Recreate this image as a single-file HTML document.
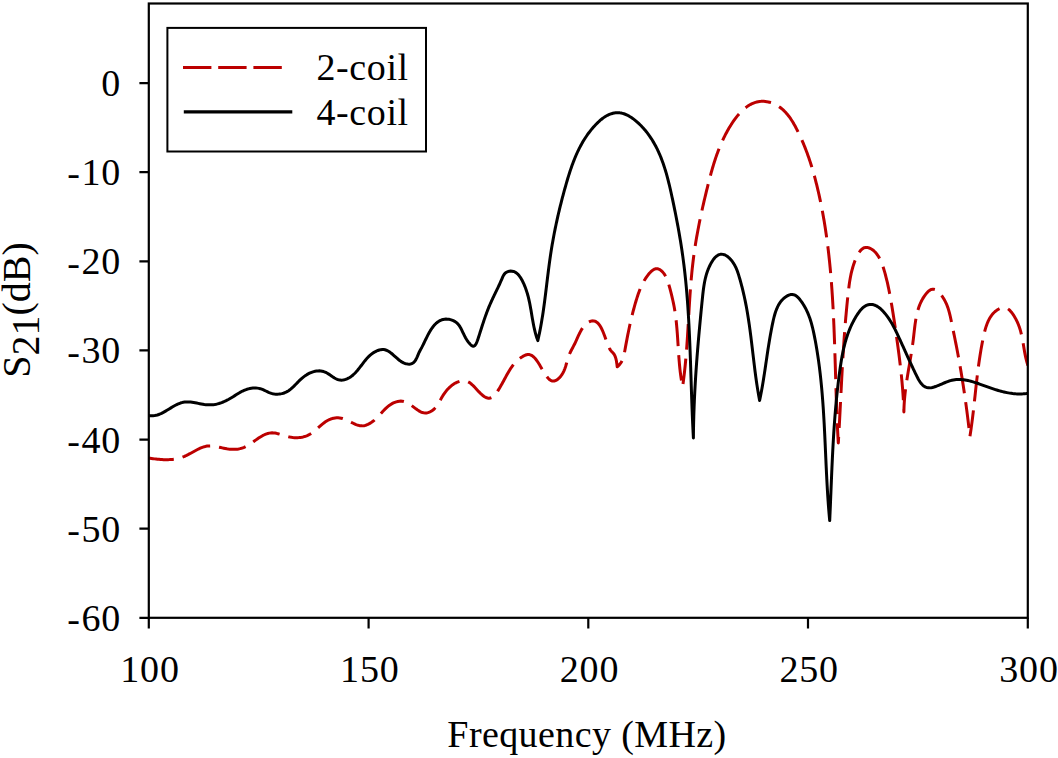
<!DOCTYPE html>
<html><head><meta charset="utf-8"><style>
html,body{margin:0;padding:0;background:#fff;}
svg{display:block;}
text{font-family:"Liberation Serif", serif;fill:#000;}
</style></head><body>
<svg width="1058" height="758" viewBox="0 0 1058 758">
<rect x="0" y="0" width="1058" height="758" fill="#fff"/>
<defs><clipPath id="pa"><rect x="148.8" y="3.5" width="879" height="614.3"/></clipPath></defs>
<g clip-path="url(#pa)" fill="none" stroke-linejoin="round">
<path d="M148.50,458.00 L150.01,458.23 L151.51,458.46 L153.02,458.67 L154.53,458.87 L156.03,459.05 L157.54,459.22 L159.04,459.36 L160.55,459.48 L162.05,459.58 L163.54,459.65 L165.04,459.69 L166.52,459.70 L168.01,459.68 L169.49,459.62 L170.96,459.52 L172.43,459.39 L173.89,459.21 L175.34,458.98 L176.79,458.71 L178.23,458.40 L179.65,458.03 L181.07,457.60 L182.48,457.13 L183.88,456.59 L185.27,456.00 L186.65,455.35 L188.02,454.67 L189.38,453.95 L190.74,453.21 L192.10,452.45 L193.45,451.70 L194.81,450.95 L196.16,450.21 L197.52,449.50 L198.89,448.83 L200.26,448.21 L201.64,447.63 L203.03,447.13 L204.43,446.69 L205.84,446.34 L207.27,446.09 L208.72,445.94 L210.18,445.89 L211.66,445.94 L213.14,446.07 L214.64,446.27 L216.15,446.53 L217.67,446.83 L219.19,447.16 L220.71,447.50 L222.24,447.85 L223.76,448.19 L225.28,448.50 L226.79,448.78 L228.30,449.01 L229.79,449.19 L231.28,449.31 L232.76,449.37 L234.23,449.37 L235.69,449.30 L237.13,449.16 L238.56,448.94 L239.98,448.65 L241.39,448.28 L242.78,447.82 L244.15,447.28 L245.51,446.65 L246.85,445.95 L248.18,445.19 L249.50,444.37 L250.82,443.51 L252.12,442.63 L253.42,441.72 L254.72,440.80 L256.02,439.89 L257.32,438.98 L258.62,438.10 L259.92,437.25 L261.23,436.45 L262.54,435.70 L263.87,435.01 L265.20,434.40 L266.55,433.88 L267.91,433.46 L269.29,433.14 L270.69,432.94 L272.10,432.87 L273.53,432.92 L274.98,433.09 L276.45,433.35 L277.93,433.68 L279.42,434.08 L280.92,434.52 L282.43,434.98 L283.94,435.45 L285.46,435.91 L286.97,436.34 L288.49,436.74 L290.00,437.07 L291.51,437.33 L293.01,437.53 L294.50,437.65 L295.99,437.71 L297.46,437.70 L298.91,437.61 L300.36,437.45 L301.78,437.22 L303.19,436.92 L304.57,436.54 L305.94,436.08 L307.28,435.55 L308.59,434.94 L309.88,434.25 L311.14,433.48 L312.37,432.64 L313.57,431.74 L314.76,430.78 L315.94,429.79 L317.11,428.77 L318.27,427.73 L319.44,426.69 L320.61,425.66 L321.79,424.64 L322.98,423.66 L324.19,422.71 L325.43,421.82 L326.70,421.00 L328.00,420.24 L329.34,419.58 L330.72,419.02 L332.14,418.56 L333.60,418.21 L335.09,417.97 L336.60,417.85 L338.12,417.84 L339.64,417.95 L341.15,418.17 L342.65,418.52 L344.13,418.98 L345.59,419.54 L347.03,420.17 L348.45,420.86 L349.86,421.57 L351.26,422.30 L352.66,423.01 L354.04,423.69 L355.43,424.32 L356.81,424.87 L358.19,425.32 L359.58,425.65 L360.97,425.84 L362.37,425.87 L363.77,425.72 L365.18,425.41 L366.58,424.96 L367.97,424.37 L369.33,423.67 L370.67,422.87 L371.96,422.00 L373.22,421.06 L374.42,420.07 L375.57,419.04 L376.69,417.97 L377.77,416.89 L378.82,415.78 L379.86,414.66 L380.88,413.54 L381.90,412.43 L382.93,411.32 L383.96,410.23 L385.01,409.16 L386.08,408.12 L387.19,407.12 L388.33,406.17 L389.52,405.27 L390.76,404.43 L392.06,403.65 L393.42,402.95 L394.85,402.34 L396.31,401.83 L397.81,401.44 L399.32,401.19 L400.83,401.09 L402.32,401.16 L403.79,401.42 L405.23,401.85 L406.63,402.44 L408.01,403.16 L409.37,403.99 L410.71,404.89 L412.03,405.85 L413.34,406.84 L414.65,407.84 L415.94,408.82 L417.24,409.75 L418.54,410.61 L419.84,411.38 L421.16,412.03 L422.48,412.54 L423.82,412.88 L425.18,413.02 L426.57,412.95 L427.97,412.65 L429.36,412.16 L430.72,411.49 L432.03,410.68 L433.25,409.76 L434.38,408.76 L435.40,407.68 L436.34,406.54 L437.21,405.35 L438.02,404.11 L438.79,402.84 L439.53,401.53 L440.26,400.21 L441.00,398.87 L441.75,397.53 L442.53,396.20 L443.36,394.88 L444.24,393.58 L445.16,392.30 L446.12,391.06 L447.13,389.86 L448.19,388.70 L449.28,387.59 L450.42,386.54 L451.60,385.56 L452.83,384.64 L454.09,383.80 L455.39,383.05 L456.74,382.38 L458.12,381.81 L459.54,381.34 L461.00,380.98 L462.46,380.76 L463.90,380.70 L465.28,380.84 L466.59,381.17 L467.86,381.68 L469.07,382.33 L470.25,383.12 L471.40,384.03 L472.53,385.03 L473.64,386.12 L474.74,387.27 L475.84,388.46 L476.95,389.68 L478.08,390.91 L479.23,392.12 L480.41,393.31 L481.63,394.45 L482.87,395.50 L484.12,396.43 L485.39,397.21 L486.65,397.80 L487.91,398.17 L489.14,398.28 L490.35,398.10 L491.52,397.63 L492.66,396.90 L493.77,395.96 L494.83,394.84 L495.86,393.58 L496.86,392.23 L497.81,390.81 L498.73,389.38 L499.61,387.95 L500.45,386.53 L501.27,385.11 L502.06,383.71 L502.82,382.31 L503.57,380.93 L504.31,379.56 L505.04,378.20 L505.76,376.86 L506.48,375.53 L507.20,374.22 L507.93,372.93 L508.67,371.66 L509.42,370.42 L510.19,369.19 L510.98,367.99 L511.81,366.81 L512.66,365.66 L513.54,364.53 L514.47,363.44 L515.44,362.37 L516.45,361.34 L517.52,360.34 L518.64,359.37 L519.82,358.43 L521.06,357.53 L522.37,356.68 L523.72,355.90 L525.09,355.25 L526.46,354.79 L527.79,354.55 L529.07,354.58 L530.30,354.86 L531.48,355.36 L532.62,356.08 L533.71,356.98 L534.78,358.04 L535.81,359.25 L536.81,360.57 L537.79,362.00 L538.76,363.51 L539.70,365.07 L540.63,366.67 L541.56,368.29 L542.48,369.90 L543.39,371.48 L544.32,373.01 L545.25,374.48 L546.19,375.85 L547.14,377.11 L548.12,378.23 L549.12,379.20 L550.14,380.00 L551.19,380.59 L552.28,380.96 L553.40,381.09 L554.55,380.94 L555.74,380.51 L556.93,379.84 L558.11,378.96 L559.25,377.91 L560.34,376.73 L561.34,375.45 L562.24,374.12 L563.03,372.75 L563.74,371.35 L564.36,369.92 L564.92,368.46 L565.43,366.99 L565.89,365.52 L566.32,364.03 L566.73,362.56 L567.14,361.09 L567.55,359.64 L567.98,358.21 L568.44,356.81 L568.93,355.44 L569.48,354.11 L570.06,352.80 L570.68,351.51 L571.33,350.23 L572.00,348.96 L572.68,347.68 L573.37,346.38 L574.06,345.06 L574.75,343.70 L575.42,342.31 L576.09,340.88 L576.75,339.42 L577.41,337.95 L578.08,336.47 L578.76,334.99 L579.45,333.53 L580.17,332.10 L580.92,330.70 L581.70,329.35 L582.53,328.06 L583.39,326.83 L584.31,325.69 L585.29,324.63 L586.33,323.68 L587.43,322.83 L588.61,322.11 L589.87,321.52 L591.17,321.09 L592.47,320.87 L593.72,320.89 L594.90,321.17 L596.02,321.68 L597.07,322.40 L598.06,323.32 L599.00,324.41 L599.89,325.65 L600.73,327.03 L601.53,328.52 L602.29,330.10 L603.01,331.76 L603.70,333.47 L604.37,335.21 L605.02,336.97 L605.64,338.72 L606.26,340.44 L606.86,342.12 L607.45,343.73 L608.05,345.25 L608.64,346.67 L609.24,347.96 L609.85,349.10 L610.47,350.08 L611.11,350.89 L611.75,351.60 L612.40,352.26 L613.04,352.94 L613.68,353.70 L614.29,354.62 L614.88,355.74 L615.43,357.14 L615.95,358.89 L616.42,361.03 L616.84,363.65 L617.20,366.80 L618.43,365.76 L619.51,364.64 L620.44,363.45 L621.26,362.20 L621.96,360.88 L622.56,359.52 L623.07,358.11 L623.51,356.67 L623.90,355.19 L624.23,353.70 L624.53,352.19 L624.82,350.67 L625.09,349.15 L625.37,347.64 L625.64,346.13 L625.92,344.62 L626.20,343.12 L626.48,341.62 L626.77,340.12 L627.05,338.62 L627.34,337.13 L627.63,335.64 L627.93,334.16 L628.23,332.68 L628.53,331.19 L628.84,329.72 L629.15,328.24 L629.46,326.77 L629.78,325.30 L630.10,323.83 L630.43,322.36 L630.77,320.90 L631.11,319.44 L631.45,317.98 L631.80,316.52 L632.16,315.06 L632.53,313.60 L632.90,312.15 L633.28,310.70 L633.67,309.24 L634.06,307.79 L634.46,306.34 L634.87,304.89 L635.29,303.45 L635.72,302.00 L636.15,300.55 L636.60,299.11 L637.05,297.66 L637.51,296.22 L637.99,294.77 L638.49,293.34 L639.01,291.90 L639.54,290.48 L640.10,289.06 L640.69,287.65 L641.31,286.25 L641.96,284.86 L642.64,283.49 L643.36,282.12 L644.11,280.78 L644.91,279.44 L645.75,278.13 L646.64,276.83 L647.58,275.56 L648.57,274.30 L649.61,273.07 L650.70,271.91 L651.83,270.87 L653.00,269.98 L654.21,269.28 L655.44,268.84 L656.69,268.68 L657.95,268.85 L659.22,269.33 L660.45,270.07 L661.64,271.02 L662.76,272.13 L663.78,273.35 L664.69,274.65 L665.50,276.01 L666.23,277.41 L666.87,278.86 L667.45,280.34 L667.97,281.85 L668.45,283.37 L668.90,284.90 L669.33,286.42 L669.75,287.93 L670.16,289.44 L670.55,290.93 L670.94,292.41 L671.31,293.89 L671.68,295.36 L672.03,296.83 L672.37,298.29 L672.70,299.75 L673.02,301.20 L673.33,302.66 L673.63,304.11 L673.91,305.56 L674.19,307.02 L674.45,308.48 L674.69,309.94 L674.93,311.40 L675.15,312.87 L675.37,314.35 L675.57,315.82 L675.76,317.31 L675.94,318.79 L676.11,320.28 L676.28,321.77 L676.43,323.27 L676.58,324.77 L676.72,326.27 L676.85,327.78 L676.98,329.28 L677.10,330.79 L677.22,332.31 L677.33,333.82 L677.44,335.33 L677.54,336.85 L677.64,338.37 L677.74,339.89 L677.84,341.41 L677.94,342.93 L678.03,344.46 L678.13,345.98 L678.22,347.50 L678.32,349.03 L678.42,350.55 L678.52,352.08 L678.62,353.60 L678.73,355.12 L678.84,356.65 L678.95,358.17 L679.07,359.69 L679.19,361.21 L679.32,362.73 L679.45,364.25 L679.60,365.76 L679.75,367.27 L679.90,368.79 L680.07,370.30 L680.24,371.80 L680.43,373.31 L680.62,374.81 L680.83,376.31 L681.04,377.80 L681.27,379.29 L681.51,380.78 L681.76,382.27 L682.03,383.75 L682.31,385.23 L682.60,386.70 L682.82,385.20 L683.03,383.71 L683.23,382.21 L683.43,380.72 L683.62,379.22 L683.81,377.72 L683.99,376.23 L684.17,374.73 L684.35,373.23 L684.52,371.74 L684.68,370.24 L684.84,368.74 L685.00,367.25 L685.15,365.75 L685.30,364.25 L685.44,362.76 L685.58,361.26 L685.72,359.76 L685.85,358.27 L685.98,356.77 L686.11,355.27 L686.23,353.77 L686.35,352.28 L686.47,350.78 L686.59,349.28 L686.70,347.79 L686.81,346.29 L686.92,344.79 L687.02,343.29 L687.12,341.80 L687.23,340.30 L687.33,338.80 L687.42,337.30 L687.52,335.81 L687.61,334.31 L687.71,332.81 L687.80,331.31 L687.89,329.82 L687.98,328.32 L688.07,326.82 L688.16,325.32 L688.25,323.83 L688.33,322.33 L688.42,320.83 L688.51,319.34 L688.60,317.84 L688.68,316.34 L688.77,314.84 L688.86,313.35 L688.95,311.85 L689.03,310.35 L689.12,308.86 L689.21,307.36 L689.31,305.86 L689.40,304.36 L689.49,302.87 L689.59,301.37 L689.68,299.87 L689.78,298.38 L689.88,296.88 L689.98,295.38 L690.08,293.89 L690.19,292.39 L690.30,290.90 L690.41,289.40 L690.52,287.90 L690.64,286.41 L690.75,284.91 L690.87,283.42 L691.00,281.92 L691.13,280.42 L691.26,278.93 L691.39,277.43 L691.53,275.94 L691.67,274.44 L691.81,272.95 L691.96,271.45 L692.11,269.96 L692.27,268.46 L692.43,266.97 L692.59,265.47 L692.76,263.98 L692.94,262.48 L693.12,260.99 L693.30,259.50 L693.49,258.00 L693.68,256.51 L693.88,255.02 L694.09,253.52 L694.30,252.03 L694.51,250.54 L694.73,249.04 L694.96,247.55 L695.19,246.06 L695.42,244.57 L695.66,243.08 L695.90,241.58 L696.15,240.09 L696.41,238.60 L696.66,237.12 L696.93,235.63 L697.19,234.14 L697.46,232.65 L697.74,231.17 L698.01,229.68 L698.30,228.19 L698.58,226.71 L698.87,225.23 L699.16,223.74 L699.46,222.26 L699.76,220.78 L700.07,219.30 L700.37,217.82 L700.68,216.35 L701.00,214.87 L701.32,213.40 L701.64,211.92 L701.96,210.45 L702.28,208.98 L702.61,207.51 L702.94,206.04 L703.28,204.57 L703.62,203.10 L703.95,201.64 L704.30,200.18 L704.64,198.72 L704.99,197.25 L705.34,195.80 L705.69,194.34 L706.04,192.88 L706.39,191.43 L706.75,189.98 L707.11,188.53 L707.47,187.08 L707.83,185.63 L708.19,184.19 L708.56,182.75 L708.93,181.31 L709.30,179.87 L709.67,178.43 L710.05,177.00 L710.43,175.56 L710.81,174.13 L711.20,172.70 L711.60,171.28 L712.00,169.85 L712.41,168.43 L712.82,167.01 L713.25,165.59 L713.68,164.17 L714.12,162.76 L714.56,161.35 L715.02,159.94 L715.48,158.53 L715.96,157.12 L716.44,155.72 L716.94,154.32 L717.45,152.92 L717.97,151.52 L718.50,150.12 L719.04,148.73 L719.60,147.34 L720.17,145.95 L720.75,144.57 L721.35,143.18 L721.97,141.80 L722.60,140.42 L723.24,139.05 L723.90,137.67 L724.58,136.30 L725.27,134.93 L725.99,133.56 L726.72,132.20 L727.47,130.84 L728.23,129.48 L729.02,128.12 L729.83,126.77 L730.66,125.42 L731.50,124.07 L732.37,122.74 L733.26,121.43 L734.17,120.13 L735.09,118.85 L736.04,117.59 L737.01,116.35 L738.00,115.15 L739.02,113.98 L740.05,112.83 L741.10,111.73 L742.18,110.67 L743.28,109.64 L744.39,108.67 L745.53,107.74 L746.70,106.86 L747.88,106.04 L749.09,105.27 L750.32,104.56 L751.57,103.91 L752.84,103.33 L754.13,102.82 L755.45,102.38 L756.79,102.01 L758.16,101.72 L759.54,101.50 L760.95,101.37 L762.38,101.32 L763.82,101.35 L765.26,101.46 L766.71,101.65 L768.15,101.92 L769.59,102.27 L771.01,102.69 L772.41,103.19 L773.79,103.76 L775.15,104.39 L776.47,105.09 L777.77,105.85 L779.02,106.67 L780.24,107.53 L781.42,108.45 L782.56,109.41 L783.66,110.41 L784.73,111.46 L785.76,112.54 L786.75,113.66 L787.72,114.81 L788.65,116.00 L789.56,117.21 L790.44,118.46 L791.29,119.72 L792.12,121.01 L792.92,122.32 L793.71,123.64 L794.47,124.98 L795.22,126.33 L795.95,127.70 L796.66,129.07 L797.36,130.45 L798.05,131.83 L798.72,133.21 L799.38,134.59 L800.04,135.98 L800.68,137.37 L801.31,138.77 L801.93,140.16 L802.53,141.56 L803.13,142.96 L803.72,144.37 L804.29,145.77 L804.86,147.18 L805.42,148.59 L805.96,150.00 L806.50,151.42 L807.03,152.84 L807.54,154.26 L808.05,155.68 L808.55,157.10 L809.05,158.53 L809.53,159.95 L810.00,161.38 L810.47,162.81 L810.93,164.25 L811.38,165.68 L811.82,167.12 L812.26,168.56 L812.68,169.99 L813.10,171.44 L813.52,172.88 L813.92,174.32 L814.32,175.77 L814.72,177.21 L815.11,178.66 L815.49,180.11 L815.86,181.56 L816.23,183.02 L816.60,184.47 L816.95,185.92 L817.31,187.38 L817.66,188.83 L818.00,190.29 L818.34,191.75 L818.67,193.21 L819.00,194.67 L819.32,196.13 L819.64,197.59 L819.96,199.06 L820.27,200.52 L820.57,201.98 L820.88,203.45 L821.17,204.92 L821.46,206.38 L821.75,207.85 L822.03,209.32 L822.31,210.79 L822.59,212.26 L822.86,213.73 L823.12,215.21 L823.39,216.68 L823.64,218.15 L823.90,219.63 L824.15,221.10 L824.39,222.58 L824.63,224.06 L824.87,225.54 L825.11,227.02 L825.34,228.50 L825.56,229.98 L825.78,231.46 L826.00,232.94 L826.22,234.42 L826.43,235.90 L826.64,237.39 L826.84,238.87 L827.04,240.36 L827.24,241.84 L827.43,243.33 L827.62,244.82 L827.81,246.30 L827.99,247.79 L828.17,249.28 L828.35,250.77 L828.52,252.26 L828.69,253.75 L828.86,255.24 L829.02,256.73 L829.18,258.23 L829.34,259.72 L829.50,261.21 L829.65,262.71 L829.80,264.20 L829.94,265.70 L830.09,267.19 L830.23,268.69 L830.37,270.18 L830.50,271.68 L830.63,273.18 L830.76,274.67 L830.89,276.17 L831.02,277.67 L831.14,279.17 L831.26,280.67 L831.38,282.17 L831.49,283.67 L831.60,285.17 L831.71,286.67 L831.82,288.17 L831.93,289.67 L832.03,291.18 L832.13,292.68 L832.23,294.18 L832.33,295.68 L832.43,297.19 L832.52,298.69 L832.61,300.20 L832.70,301.70 L832.79,303.20 L832.87,304.71 L832.96,306.21 L833.04,307.72 L833.12,309.22 L833.20,310.73 L833.28,312.24 L833.35,313.74 L833.43,315.25 L833.50,316.75 L833.57,318.26 L833.64,319.77 L833.71,321.28 L833.78,322.78 L833.84,324.29 L833.91,325.80 L833.97,327.30 L834.03,328.81 L834.09,330.32 L834.15,331.83 L834.21,333.34 L834.27,334.84 L834.32,336.35 L834.38,337.86 L834.43,339.37 L834.49,340.88 L834.54,342.38 L834.59,343.89 L834.65,345.40 L834.70,346.91 L834.75,348.42 L834.80,349.92 L834.84,351.43 L834.89,352.94 L834.94,354.45 L834.99,355.96 L835.04,357.46 L835.08,358.97 L835.13,360.48 L835.17,361.99 L835.22,363.50 L835.27,365.00 L835.31,366.51 L835.36,368.02 L835.40,369.52 L835.45,371.03 L835.49,372.54 L835.54,374.04 L835.58,375.55 L835.63,377.06 L835.67,378.56 L835.72,380.07 L835.76,381.57 L835.81,383.08 L835.85,384.58 L835.90,386.09 L835.95,387.59 L835.99,389.10 L836.04,390.60 L836.09,392.11 L836.14,393.61 L836.19,395.11 L836.24,396.62 L836.29,398.12 L836.34,399.62 L836.39,401.12 L836.44,402.62 L836.50,404.13 L836.55,405.63 L836.61,407.13 L836.66,408.63 L836.72,410.13 L836.78,411.63 L836.84,413.12 L836.90,414.62 L836.96,416.12 L837.02,417.62 L837.08,419.12 L837.15,420.61 L837.22,422.11 L837.28,423.60 L837.35,425.10 L837.42,426.59 L837.49,428.09 L837.57,429.58 L837.64,431.07 L837.72,432.57 L837.80,434.06 L837.88,435.55 L837.96,437.04 L838.04,438.53 L838.12,440.02 L838.21,441.51 L838.30,443.00 L838.39,441.51 L838.48,440.03 L838.56,438.54 L838.65,437.05 L838.74,435.56 L838.82,434.07 L838.91,432.57 L838.99,431.08 L839.07,429.58 L839.15,428.08 L839.24,426.59 L839.32,425.09 L839.40,423.59 L839.48,422.09 L839.56,420.59 L839.64,419.08 L839.72,417.58 L839.79,416.07 L839.87,414.57 L839.95,413.06 L840.03,411.56 L840.11,410.05 L840.18,408.54 L840.26,407.03 L840.34,405.52 L840.41,404.01 L840.49,402.50 L840.57,400.99 L840.64,399.48 L840.72,397.97 L840.80,396.45 L840.88,394.94 L840.95,393.43 L841.03,391.91 L841.11,390.40 L841.19,388.89 L841.26,387.37 L841.34,385.86 L841.42,384.34 L841.50,382.83 L841.58,381.31 L841.66,379.80 L841.74,378.28 L841.82,376.76 L841.91,375.25 L841.99,373.73 L842.07,372.22 L842.15,370.70 L842.24,369.19 L842.32,367.67 L842.41,366.16 L842.50,364.64 L842.58,363.13 L842.67,361.62 L842.76,360.10 L842.85,358.59 L842.94,357.08 L843.03,355.57 L843.13,354.05 L843.22,352.54 L843.32,351.03 L843.41,349.52 L843.51,348.01 L843.61,346.50 L843.71,344.99 L843.81,343.49 L843.91,341.98 L844.02,340.47 L844.12,338.97 L844.23,337.46 L844.34,335.96 L844.45,334.45 L844.56,332.95 L844.67,331.45 L844.78,329.95 L844.90,328.45 L845.01,326.95 L845.13,325.46 L845.25,323.96 L845.38,322.46 L845.50,320.97 L845.63,319.48 L845.75,317.99 L845.88,316.50 L846.01,315.01 L846.15,313.52 L846.28,312.03 L846.42,310.55 L846.56,309.06 L846.70,307.58 L846.84,306.10 L846.99,304.62 L847.14,303.15 L847.29,301.67 L847.44,300.19 L847.59,298.72 L847.75,297.25 L847.91,295.78 L848.07,294.31 L848.23,292.85 L848.40,291.38 L848.57,289.92 L848.74,288.46 L848.92,287.00 L849.10,285.53 L849.30,284.07 L849.51,282.60 L849.73,281.13 L849.97,279.65 L850.23,278.16 L850.51,276.67 L850.81,275.17 L851.13,273.65 L851.49,272.13 L851.87,270.59 L852.28,269.04 L852.72,267.48 L853.20,265.90 L853.72,264.30 L854.27,262.68 L854.87,261.05 L855.51,259.43 L856.19,257.83 L856.91,256.27 L857.68,254.77 L858.49,253.36 L859.35,252.05 L860.25,250.87 L861.21,249.82 L862.21,248.94 L863.26,248.24 L864.36,247.74 L865.52,247.47 L866.72,247.42 L867.95,247.60 L869.20,247.97 L870.45,248.51 L871.67,249.21 L872.86,250.03 L873.99,250.96 L875.06,251.99 L876.06,253.09 L876.99,254.28 L877.87,255.53 L878.70,256.85 L879.47,258.22 L880.19,259.64 L880.87,261.10 L881.50,262.60 L882.10,264.12 L882.66,265.67 L883.19,267.23 L883.69,268.80 L884.16,270.36 L884.62,271.92 L885.05,273.47 L885.47,275.00 L885.87,276.52 L886.25,278.03 L886.62,279.52 L886.98,281.00 L887.33,282.47 L887.66,283.93 L887.98,285.38 L888.29,286.83 L888.59,288.27 L888.89,289.71 L889.17,291.15 L889.45,292.58 L889.73,294.02 L889.99,295.45 L890.25,296.89 L890.51,298.33 L890.77,299.77 L891.02,301.22 L891.28,302.67 L891.53,304.13 L891.78,305.60 L892.02,307.07 L892.27,308.54 L892.51,310.02 L892.75,311.50 L892.99,312.98 L893.23,314.47 L893.46,315.96 L893.70,317.46 L893.93,318.95 L894.16,320.45 L894.39,321.95 L894.61,323.45 L894.84,324.96 L895.06,326.46 L895.28,327.97 L895.50,329.47 L895.72,330.98 L895.94,332.49 L896.16,333.99 L896.37,335.50 L896.58,337.01 L896.79,338.51 L897.00,340.02 L897.21,341.52 L897.42,343.02 L897.63,344.52 L897.83,346.02 L898.03,347.52 L898.23,349.02 L898.43,350.52 L898.62,352.01 L898.82,353.51 L899.01,355.00 L899.20,356.50 L899.39,357.99 L899.57,359.49 L899.75,360.98 L899.93,362.47 L900.11,363.97 L900.28,365.46 L900.46,366.95 L900.62,368.45 L900.79,369.94 L900.95,371.43 L901.11,372.92 L901.27,374.42 L901.42,375.91 L901.57,377.40 L901.72,378.90 L901.86,380.39 L902.00,381.89 L902.13,383.38 L902.26,384.88 L902.39,386.38 L902.52,387.88 L902.64,389.37 L902.75,390.87 L902.86,392.37 L902.97,393.88 L903.07,395.38 L903.17,396.88 L903.27,398.39 L903.36,399.89 L903.44,401.40 L903.52,402.91 L903.60,404.42 L903.67,405.93 L903.73,407.45 L903.79,408.96 L903.85,410.48 L903.90,412.00 L903.93,410.44 L903.97,408.88 L904.02,407.33 L904.09,405.79 L904.17,404.25 L904.27,402.72 L904.37,401.20 L904.49,399.68 L904.61,398.17 L904.75,396.66 L904.90,395.16 L905.06,393.66 L905.22,392.17 L905.40,390.67 L905.58,389.19 L905.77,387.70 L905.97,386.22 L906.17,384.75 L906.38,383.27 L906.60,381.80 L906.82,380.33 L907.05,378.86 L907.28,377.39 L907.51,375.92 L907.75,374.46 L907.99,372.99 L908.24,371.53 L908.48,370.06 L908.73,368.60 L908.98,367.13 L909.23,365.66 L909.48,364.20 L909.74,362.73 L909.99,361.26 L910.24,359.79 L910.48,358.31 L910.73,356.83 L910.97,355.35 L911.22,353.87 L911.45,352.38 L911.69,350.89 L911.92,349.40 L912.14,347.90 L912.36,346.40 L912.58,344.89 L912.79,343.38 L912.99,341.87 L913.18,340.34 L913.37,338.81 L913.55,337.28 L913.73,335.74 L913.90,334.20 L914.08,332.66 L914.25,331.11 L914.43,329.56 L914.61,328.02 L914.80,326.47 L915.00,324.93 L915.21,323.40 L915.44,321.86 L915.68,320.34 L915.94,318.82 L916.22,317.31 L916.52,315.81 L916.84,314.31 L917.19,312.83 L917.57,311.37 L917.98,309.91 L918.43,308.47 L918.90,307.05 L919.42,305.64 L919.97,304.25 L920.56,302.88 L921.20,301.53 L921.88,300.20 L922.61,298.89 L923.39,297.60 L924.21,296.34 L925.10,295.10 L926.03,293.90 L927.02,292.73 L928.06,291.67 L929.14,290.73 L930.26,289.99 L931.42,289.47 L932.59,289.23 L933.79,289.29 L935.00,289.65 L936.21,290.26 L937.40,291.09 L938.57,292.10 L939.70,293.25 L940.78,294.51 L941.81,295.84 L942.77,297.19 L943.65,298.57 L944.47,299.97 L945.22,301.37 L945.92,302.80 L946.56,304.23 L947.15,305.68 L947.69,307.14 L948.19,308.60 L948.65,310.08 L949.08,311.56 L949.48,313.04 L949.85,314.53 L950.20,316.03 L950.53,317.52 L950.85,319.02 L951.17,320.51 L951.47,322.00 L951.78,323.49 L952.09,324.97 L952.39,326.46 L952.70,327.93 L953.00,329.41 L953.31,330.89 L953.61,332.36 L953.91,333.83 L954.21,335.30 L954.51,336.77 L954.81,338.24 L955.11,339.71 L955.40,341.17 L955.69,342.64 L955.98,344.11 L956.27,345.58 L956.56,347.05 L956.85,348.52 L957.13,350.00 L957.41,351.47 L957.69,352.95 L957.97,354.42 L958.24,355.90 L958.51,357.38 L958.78,358.86 L959.05,360.35 L959.31,361.83 L959.58,363.31 L959.84,364.80 L960.10,366.28 L960.35,367.77 L960.61,369.26 L960.86,370.75 L961.11,372.24 L961.36,373.73 L961.60,375.22 L961.85,376.71 L962.09,378.20 L962.33,379.70 L962.57,381.19 L962.80,382.69 L963.03,384.18 L963.27,385.68 L963.49,387.17 L963.72,388.67 L963.95,390.17 L964.17,391.67 L964.39,393.16 L964.61,394.66 L964.82,396.16 L965.04,397.66 L965.25,399.16 L965.46,400.66 L965.67,402.16 L965.88,403.66 L966.08,405.16 L966.28,406.66 L966.48,408.15 L966.68,409.65 L966.88,411.15 L967.07,412.65 L967.26,414.15 L967.45,415.65 L967.64,417.15 L967.82,418.65 L968.01,420.15 L968.19,421.64 L968.37,423.14 L968.55,424.64 L968.72,426.14 L968.90,427.63 L969.07,429.13 L969.24,430.62 L969.41,432.12 L969.57,433.61 L969.74,435.11 L969.90,436.60 L970.14,435.06 L970.38,433.52 L970.61,431.99 L970.84,430.46 L971.06,428.94 L971.28,427.41 L971.49,425.90 L971.69,424.38 L971.90,422.87 L972.09,421.36 L972.29,419.85 L972.48,418.35 L972.66,416.85 L972.84,415.35 L973.02,413.86 L973.20,412.36 L973.37,410.87 L973.54,409.38 L973.71,407.90 L973.88,406.41 L974.04,404.93 L974.21,403.44 L974.37,401.96 L974.53,400.48 L974.69,399.00 L974.85,397.52 L975.01,396.05 L975.17,394.57 L975.33,393.09 L975.48,391.62 L975.64,390.14 L975.80,388.66 L975.97,387.19 L976.13,385.71 L976.29,384.24 L976.46,382.76 L976.62,381.28 L976.79,379.80 L976.96,378.32 L977.14,376.84 L977.31,375.36 L977.49,373.88 L977.68,372.40 L977.86,370.91 L978.05,369.42 L978.25,367.94 L978.44,366.45 L978.64,364.95 L978.85,363.46 L979.06,361.96 L979.28,360.46 L979.50,358.96 L979.73,357.45 L979.96,355.95 L980.20,354.44 L980.44,352.92 L980.70,351.41 L980.95,349.88 L981.22,348.36 L981.49,346.83 L981.77,345.30 L982.05,343.77 L982.35,342.23 L982.65,340.68 L982.96,339.14 L983.28,337.58 L983.61,336.03 L983.95,334.48 L984.32,332.94 L984.70,331.40 L985.10,329.87 L985.53,328.37 L985.99,326.88 L986.48,325.41 L987.01,323.97 L987.58,322.56 L988.18,321.19 L988.83,319.85 L989.53,318.54 L990.28,317.29 L991.08,316.08 L991.94,314.92 L992.85,313.81 L993.83,312.76 L994.87,311.77 L995.98,310.85 L997.16,309.99 L998.42,309.21 L999.74,308.52 L1001.10,307.96 L1002.48,307.59 L1003.86,307.44 L1005.21,307.56 L1006.52,307.98 L1007.77,308.66 L1008.97,309.58 L1010.11,310.67 L1011.20,311.91 L1012.23,313.25 L1013.20,314.64 L1014.10,316.05 L1014.95,317.46 L1015.74,318.87 L1016.47,320.28 L1017.15,321.69 L1017.79,323.10 L1018.37,324.51 L1018.92,325.93 L1019.42,327.34 L1019.88,328.76 L1020.31,330.18 L1020.71,331.60 L1021.08,333.02 L1021.43,334.45 L1021.75,335.88 L1022.05,337.32 L1022.34,338.75 L1022.61,340.20 L1022.87,341.64 L1023.12,343.09 L1023.37,344.54 L1023.61,346.00 L1023.86,347.47 L1024.11,348.93 L1024.36,350.41 L1024.62,351.89 L1024.90,353.37 L1025.19,354.87 L1025.50,356.36 L1025.83,357.87 L1026.19,359.38 L1026.57,360.90 L1026.98,362.43 L1027.42,363.96 L1027.90,365.50" stroke="#BC0000" stroke-width="3" stroke-dasharray="25.42 9.00 30.10 9.00 27.17 9.00 28.91 9.00 23.79 9.00 27.75 9.00 25.77 9.00 27.36 9.00 27.36 9.00 27.63 9.00 29.43 9.00 31.00 9.00 30.29 9.00 32.26 9.00 28.93 9.00 28.19 9.00 28.76 9.00 29.00 9.00 27.29 9.00 30.34 9.00 27.45 9.00 25.85 9.00 25.63 9.00 25.63 9.00 25.63 9.00 25.63 9.00 25.63 9.00 27.26 9.00 26.98 9.00 28.15 9.00 31.35 9.00 27.08 9.00 32.01 9.00 28.82 9.00 26.94 9.00 26.93 9.00 27.03 9.00 27.15 9.00 25.98 9.00 25.98 9.00 25.98 9.00 25.98 9.00 25.98 9.00 25.98 9.00 25.98 9.00 25.98 9.00 28.78 9.00 27.17 9.00 27.90 9.00 25.59 9.00 28.77 9.00 25.78 9.00 25.78 9.00 26.81 9.00 26.44 9.00 28.65 9.00 28.64 9.00 27.05 9.00 27.29 9.00 26.14 9.00 26.14 9.00 26.14 9.00 26.36 9.00 28.36 9.00 29.25 9.00 72.84 9.00"/>
<path d="M148.50,415.50 L150.04,415.73 L151.55,415.83 L153.04,415.78 L154.50,415.62 L155.94,415.34 L157.36,414.96 L158.77,414.49 L160.15,413.93 L161.53,413.31 L162.89,412.63 L164.24,411.89 L165.59,411.12 L166.93,410.32 L168.26,409.50 L169.60,408.67 L170.93,407.85 L172.27,407.04 L173.61,406.25 L174.95,405.50 L176.30,404.79 L177.67,404.14 L179.04,403.55 L180.43,403.04 L181.83,402.61 L183.25,402.28 L184.70,402.06 L186.16,401.94 L187.63,401.91 L189.12,401.97 L190.63,402.09 L192.14,402.28 L193.66,402.51 L195.19,402.77 L196.73,403.06 L198.26,403.37 L199.80,403.67 L201.33,403.96 L202.86,404.23 L204.38,404.47 L205.89,404.66 L207.39,404.80 L208.88,404.87 L210.36,404.86 L211.82,404.79 L213.27,404.65 L214.70,404.44 L216.13,404.18 L217.53,403.85 L218.93,403.47 L220.32,403.03 L221.69,402.55 L223.05,402.02 L224.40,401.44 L225.73,400.83 L227.06,400.17 L228.38,399.48 L229.68,398.76 L230.97,398.01 L232.26,397.23 L233.53,396.43 L234.81,395.62 L236.08,394.80 L237.36,393.99 L238.65,393.20 L239.96,392.43 L241.29,391.70 L242.65,391.01 L244.04,390.38 L245.46,389.80 L246.92,389.30 L248.39,388.87 L249.88,388.52 L251.37,388.25 L252.88,388.07 L254.38,387.99 L255.87,388.00 L257.35,388.13 L258.82,388.36 L260.26,388.70 L261.67,389.17 L263.06,389.73 L264.44,390.35 L265.81,391.00 L267.19,391.66 L268.57,392.29 L269.97,392.87 L271.40,393.36 L272.85,393.74 L274.34,394.00 L275.84,394.14 L277.35,394.17 L278.87,394.09 L280.37,393.90 L281.85,393.61 L283.30,393.21 L284.71,392.72 L286.07,392.13 L287.38,391.45 L288.62,390.68 L289.82,389.84 L290.97,388.93 L292.09,387.96 L293.18,386.95 L294.25,385.90 L295.31,384.82 L296.37,383.72 L297.43,382.62 L298.50,381.52 L299.59,380.43 L300.71,379.36 L301.86,378.33 L303.06,377.34 L304.29,376.39 L305.56,375.50 L306.85,374.67 L308.18,373.90 L309.53,373.20 L310.90,372.59 L312.29,372.06 L313.69,371.61 L315.11,371.27 L316.53,371.03 L317.95,370.89 L319.38,370.87 L320.80,370.98 L322.22,371.21 L323.63,371.57 L325.03,372.07 L326.41,372.72 L327.77,373.50 L329.13,374.36 L330.47,375.28 L331.82,376.22 L333.16,377.13 L334.51,377.99 L335.86,378.75 L337.23,379.38 L338.62,379.84 L340.02,380.10 L341.43,380.17 L342.85,380.07 L344.26,379.81 L345.65,379.40 L347.02,378.86 L348.37,378.21 L349.67,377.46 L350.92,376.63 L352.12,375.73 L353.26,374.77 L354.35,373.76 L355.40,372.71 L356.41,371.61 L357.39,370.48 L358.34,369.33 L359.28,368.15 L360.20,366.95 L361.11,365.74 L362.02,364.53 L362.94,363.32 L363.86,362.12 L364.80,360.93 L365.77,359.76 L366.76,358.61 L367.78,357.49 L368.85,356.42 L369.96,355.38 L371.13,354.40 L372.35,353.46 L373.64,352.59 L374.99,351.79 L376.41,351.07 L377.86,350.46 L379.33,349.97 L380.80,349.65 L382.25,349.50 L383.65,349.55 L385.01,349.80 L386.33,350.22 L387.61,350.80 L388.86,351.51 L390.08,352.33 L391.29,353.24 L392.48,354.23 L393.67,355.27 L394.85,356.33 L396.03,357.41 L397.23,358.47 L398.44,359.51 L399.67,360.49 L400.92,361.39 L402.20,362.20 L403.53,362.90 L404.89,363.46 L406.29,363.87 L407.70,364.10 L409.11,364.14 L410.47,363.98 L411.77,363.60 L412.98,362.97 L414.07,362.09 L415.02,360.95 L415.87,359.62 L416.62,358.15 L417.31,356.61 L417.95,355.06 L418.57,353.57 L419.19,352.20 L419.83,350.95 L420.47,349.78 L421.12,348.62 L421.78,347.42 L422.43,346.15 L423.08,344.84 L423.74,343.48 L424.41,342.09 L425.09,340.67 L425.79,339.23 L426.49,337.78 L427.22,336.33 L427.96,334.88 L428.73,333.44 L429.52,332.03 L430.34,330.65 L431.19,329.31 L432.07,328.01 L432.99,326.77 L433.94,325.60 L434.93,324.49 L435.96,323.46 L437.04,322.52 L438.16,321.68 L439.34,320.94 L440.56,320.32 L441.83,319.81 L443.17,319.44 L444.56,319.20 L445.99,319.10 L447.47,319.14 L448.95,319.31 L450.43,319.62 L451.88,320.07 L453.29,320.64 L454.64,321.34 L455.91,322.17 L457.08,323.13 L458.13,324.21 L459.07,325.39 L459.92,326.67 L460.70,328.02 L461.43,329.42 L462.12,330.85 L462.80,332.29 L463.48,333.73 L464.18,335.15 L464.90,336.55 L465.66,337.93 L466.45,339.29 L467.29,340.60 L468.19,341.88 L469.15,343.12 L470.17,344.27 L471.20,345.24 L472.22,345.92 L473.18,346.22 L474.05,346.06 L474.85,345.51 L475.57,344.62 L476.24,343.45 L476.86,342.08 L477.44,340.55 L477.99,338.94 L478.52,337.31 L479.04,335.70 L479.55,334.11 L480.04,332.55 L480.53,331.01 L481.02,329.49 L481.50,328.00 L481.97,326.52 L482.44,325.07 L482.91,323.63 L483.38,322.20 L483.85,320.79 L484.32,319.39 L484.80,318.01 L485.27,316.63 L485.76,315.26 L486.25,313.90 L486.75,312.55 L487.26,311.20 L487.78,309.86 L488.31,308.51 L488.85,307.17 L489.41,305.83 L489.99,304.49 L490.58,303.14 L491.18,301.79 L491.81,300.43 L492.44,299.07 L493.08,297.71 L493.74,296.34 L494.40,294.97 L495.06,293.59 L495.73,292.21 L496.40,290.83 L497.07,289.44 L497.74,288.04 L498.41,286.64 L499.07,285.24 L499.72,283.82 L500.36,282.41 L501.00,280.98 L501.62,279.55 L502.23,278.12 L502.84,276.70 L503.52,275.35 L504.33,274.12 L505.31,273.07 L506.50,272.25 L507.84,271.64 L509.27,271.26 L510.73,271.10 L512.16,271.17 L513.51,271.47 L514.77,271.96 L515.95,272.64 L517.06,273.48 L518.09,274.46 L519.06,275.57 L519.97,276.78 L520.82,278.07 L521.62,279.43 L522.37,280.83 L523.07,282.26 L523.73,283.69 L524.36,285.13 L524.95,286.57 L525.50,288.01 L526.02,289.46 L526.51,290.90 L526.97,292.35 L527.41,293.80 L527.82,295.25 L528.21,296.71 L528.57,298.16 L528.91,299.62 L529.24,301.08 L529.55,302.54 L529.85,304.00 L530.13,305.46 L530.40,306.93 L530.66,308.39 L530.92,309.85 L531.17,311.32 L531.41,312.79 L531.66,314.25 L531.90,315.72 L532.15,317.19 L532.40,318.65 L532.65,320.12 L532.92,321.59 L533.19,323.06 L533.47,324.52 L533.76,325.99 L534.07,327.45 L534.40,328.92 L534.74,330.38 L535.10,331.85 L535.49,333.31 L535.90,334.77 L536.33,336.23 L536.79,337.69 L537.28,339.14 L537.80,340.60 L538.14,339.15 L538.47,337.70 L538.79,336.25 L539.10,334.79 L539.41,333.33 L539.71,331.87 L540.00,330.40 L540.28,328.94 L540.56,327.47 L540.83,326.00 L541.10,324.52 L541.36,323.05 L541.61,321.57 L541.86,320.09 L542.10,318.61 L542.34,317.13 L542.58,315.64 L542.80,314.16 L543.03,312.67 L543.25,311.18 L543.46,309.69 L543.67,308.20 L543.88,306.70 L544.09,305.21 L544.29,303.71 L544.49,302.22 L544.69,300.72 L544.88,299.22 L545.07,297.72 L545.26,296.22 L545.45,294.72 L545.63,293.22 L545.82,291.72 L546.00,290.22 L546.19,288.72 L546.37,287.22 L546.55,285.71 L546.73,284.21 L546.91,282.71 L547.10,281.21 L547.28,279.70 L547.46,278.20 L547.64,276.70 L547.83,275.20 L548.02,273.70 L548.20,272.20 L548.39,270.70 L548.58,269.20 L548.78,267.70 L548.97,266.20 L549.17,264.70 L549.37,263.21 L549.58,261.71 L549.79,260.22 L550.00,258.73 L550.21,257.23 L550.43,255.74 L550.65,254.25 L550.88,252.77 L551.11,251.28 L551.35,249.80 L551.59,248.31 L551.83,246.83 L552.08,245.35 L552.33,243.87 L552.59,242.39 L552.85,240.92 L553.12,239.44 L553.39,237.97 L553.66,236.49 L553.94,235.02 L554.22,233.55 L554.51,232.08 L554.80,230.61 L555.09,229.14 L555.39,227.67 L555.70,226.20 L556.00,224.74 L556.31,223.27 L556.63,221.81 L556.95,220.34 L557.27,218.88 L557.60,217.42 L557.93,215.95 L558.26,214.49 L558.60,213.03 L558.95,211.57 L559.29,210.11 L559.64,208.65 L560.00,207.19 L560.36,205.73 L560.72,204.28 L561.09,202.82 L561.46,201.36 L561.83,199.90 L562.21,198.45 L562.59,196.99 L562.98,195.53 L563.36,194.08 L563.76,192.62 L564.15,191.16 L564.56,189.71 L564.96,188.25 L565.37,186.79 L565.78,185.34 L566.20,183.88 L566.62,182.42 L567.04,180.97 L567.47,179.51 L567.91,178.06 L568.35,176.61 L568.80,175.16 L569.26,173.71 L569.72,172.27 L570.20,170.83 L570.68,169.39 L571.17,167.96 L571.67,166.53 L572.18,165.10 L572.70,163.68 L573.23,162.26 L573.77,160.85 L574.33,159.45 L574.90,158.05 L575.48,156.65 L576.07,155.27 L576.68,153.89 L577.30,152.51 L577.94,151.15 L578.59,149.79 L579.26,148.44 L579.95,147.10 L580.65,145.77 L581.37,144.45 L582.10,143.13 L582.86,141.83 L583.63,140.54 L584.42,139.25 L585.24,137.98 L586.07,136.72 L586.92,135.47 L587.79,134.23 L588.69,133.01 L589.60,131.80 L590.54,130.60 L591.51,129.41 L592.49,128.24 L593.50,127.08 L594.53,125.93 L595.59,124.80 L596.68,123.68 L597.79,122.59 L598.92,121.51 L600.08,120.48 L601.26,119.48 L602.46,118.52 L603.69,117.62 L604.94,116.78 L606.22,116.01 L607.51,115.30 L608.83,114.67 L610.16,114.13 L611.51,113.68 L612.88,113.31 L614.26,113.03 L615.64,112.85 L617.03,112.76 L618.41,112.76 L619.80,112.87 L621.17,113.07 L622.54,113.38 L623.90,113.77 L625.25,114.25 L626.58,114.82 L627.90,115.46 L629.20,116.17 L630.49,116.94 L631.76,117.77 L633.01,118.65 L634.24,119.58 L635.45,120.55 L636.63,121.55 L637.80,122.59 L638.93,123.65 L640.04,124.72 L641.13,125.81 L642.18,126.92 L643.21,128.05 L644.22,129.18 L645.20,130.34 L646.16,131.51 L647.09,132.69 L648.00,133.89 L648.89,135.10 L649.76,136.32 L650.60,137.56 L651.42,138.80 L652.22,140.07 L653.00,141.34 L653.76,142.62 L654.50,143.92 L655.22,145.23 L655.92,146.54 L656.60,147.87 L657.26,149.21 L657.91,150.56 L658.54,151.92 L659.15,153.28 L659.75,154.66 L660.33,156.04 L660.90,157.44 L661.45,158.84 L661.98,160.24 L662.51,161.66 L663.01,163.08 L663.51,164.51 L663.99,165.94 L664.46,167.38 L664.92,168.83 L665.37,170.28 L665.81,171.74 L666.24,173.20 L666.65,174.66 L667.06,176.13 L667.46,177.60 L667.85,179.08 L668.23,180.56 L668.60,182.04 L668.97,183.53 L669.33,185.01 L669.68,186.50 L670.03,187.99 L670.38,189.48 L670.71,190.97 L671.05,192.47 L671.37,193.96 L671.70,195.45 L672.02,196.94 L672.34,198.43 L672.66,199.92 L672.97,201.41 L673.29,202.90 L673.60,204.39 L673.91,205.87 L674.21,207.36 L674.52,208.84 L674.82,210.33 L675.12,211.81 L675.41,213.29 L675.71,214.77 L676.00,216.25 L676.29,217.73 L676.57,219.21 L676.86,220.69 L677.14,222.16 L677.42,223.64 L677.69,225.12 L677.96,226.60 L678.23,228.07 L678.50,229.55 L678.76,231.03 L679.03,232.50 L679.28,233.98 L679.54,235.45 L679.79,236.93 L680.04,238.41 L680.28,239.88 L680.53,241.36 L680.76,242.84 L681.00,244.31 L681.23,245.79 L681.46,247.27 L681.69,248.75 L681.91,250.23 L682.13,251.71 L682.34,253.19 L682.55,254.67 L682.76,256.15 L682.96,257.63 L683.16,259.12 L683.36,260.60 L683.55,262.08 L683.74,263.57 L683.93,265.06 L684.11,266.54 L684.29,268.03 L684.46,269.52 L684.64,271.01 L684.81,272.50 L684.97,273.99 L685.13,275.48 L685.29,276.97 L685.45,278.47 L685.60,279.96 L685.75,281.46 L685.89,282.95 L686.04,284.45 L686.18,285.94 L686.32,287.44 L686.45,288.94 L686.58,290.44 L686.71,291.93 L686.84,293.43 L686.96,294.93 L687.08,296.43 L687.20,297.94 L687.32,299.44 L687.43,300.94 L687.54,302.44 L687.65,303.94 L687.76,305.45 L687.86,306.95 L687.96,308.45 L688.06,309.96 L688.16,311.46 L688.25,312.97 L688.35,314.48 L688.44,315.98 L688.53,317.49 L688.62,319.00 L688.70,320.50 L688.78,322.01 L688.87,323.52 L688.95,325.03 L689.03,326.53 L689.10,328.04 L689.18,329.55 L689.25,331.06 L689.32,332.57 L689.39,334.08 L689.46,335.59 L689.53,337.10 L689.60,338.61 L689.66,340.12 L689.73,341.63 L689.79,343.14 L689.85,344.65 L689.91,346.16 L689.97,347.67 L690.03,349.18 L690.09,350.69 L690.15,352.21 L690.20,353.72 L690.26,355.23 L690.31,356.74 L690.37,358.25 L690.42,359.76 L690.47,361.27 L690.52,362.78 L690.57,364.29 L690.62,365.80 L690.68,367.32 L690.73,368.83 L690.77,370.34 L690.82,371.85 L690.87,373.36 L690.92,374.87 L690.97,376.38 L691.02,377.89 L691.07,379.40 L691.12,380.91 L691.17,382.42 L691.21,383.93 L691.26,385.43 L691.31,386.94 L691.36,388.45 L691.41,389.96 L691.46,391.47 L691.51,392.98 L691.56,394.48 L691.61,395.99 L691.66,397.50 L691.71,399.00 L691.77,400.51 L691.82,402.01 L691.87,403.52 L691.93,405.02 L691.98,406.53 L692.04,408.03 L692.10,409.54 L692.15,411.04 L692.21,412.54 L692.27,414.04 L692.33,415.54 L692.39,417.05 L692.46,418.55 L692.52,420.05 L692.59,421.55 L692.65,423.04 L692.72,424.54 L692.79,426.04 L692.86,427.54 L692.93,429.03 L693.01,430.53 L693.08,432.03 L693.16,433.52 L693.24,435.01 L693.32,436.51 L693.40,438.00 L693.41,436.48 L693.43,434.95 L693.44,433.43 L693.46,431.91 L693.48,430.39 L693.50,428.87 L693.53,427.35 L693.56,425.83 L693.59,424.32 L693.62,422.80 L693.66,421.29 L693.70,419.77 L693.74,418.26 L693.78,416.75 L693.82,415.23 L693.87,413.72 L693.92,412.21 L693.97,410.70 L694.02,409.19 L694.08,407.68 L694.13,406.18 L694.19,404.67 L694.26,403.16 L694.32,401.66 L694.38,400.15 L694.45,398.65 L694.52,397.14 L694.59,395.64 L694.67,394.13 L694.74,392.63 L694.82,391.13 L694.90,389.62 L694.98,388.12 L695.06,386.62 L695.15,385.12 L695.23,383.62 L695.32,382.12 L695.41,380.61 L695.50,379.11 L695.60,377.61 L695.69,376.11 L695.79,374.61 L695.89,373.11 L695.99,371.61 L696.09,370.11 L696.19,368.61 L696.30,367.12 L696.40,365.62 L696.51,364.12 L696.62,362.62 L696.73,361.12 L696.85,359.62 L696.96,358.12 L697.07,356.62 L697.19,355.12 L697.31,353.62 L697.43,352.12 L697.55,350.62 L697.67,349.12 L697.80,347.62 L697.92,346.11 L698.05,344.61 L698.17,343.11 L698.30,341.61 L698.43,340.11 L698.56,338.60 L698.69,337.10 L698.83,335.60 L698.96,334.09 L699.10,332.59 L699.23,331.08 L699.37,329.58 L699.51,328.07 L699.65,326.57 L699.79,325.06 L699.93,323.55 L700.07,322.04 L700.21,320.53 L700.36,319.03 L700.50,317.51 L700.65,316.00 L700.79,314.49 L700.94,312.98 L701.09,311.47 L701.24,309.95 L701.39,308.44 L701.54,306.92 L701.69,305.41 L701.84,303.89 L701.99,302.37 L702.15,300.85 L702.30,299.33 L702.45,297.81 L702.61,296.29 L702.77,294.77 L702.94,293.25 L703.12,291.73 L703.30,290.22 L703.50,288.71 L703.71,287.20 L703.94,285.69 L704.19,284.20 L704.45,282.70 L704.74,281.22 L705.05,279.74 L705.39,278.27 L705.75,276.81 L706.14,275.35 L706.57,273.91 L707.02,272.48 L707.52,271.05 L708.04,269.65 L708.61,268.25 L709.22,266.87 L709.87,265.50 L710.56,264.14 L711.31,262.80 L712.10,261.48 L712.93,260.19 L713.83,258.96 L714.77,257.81 L715.77,256.78 L716.83,255.89 L717.94,255.17 L719.12,254.65 L720.35,254.34 L721.61,254.25 L722.90,254.37 L724.19,254.70 L725.47,255.23 L726.72,255.94 L727.93,256.82 L729.11,257.84 L730.24,258.97 L731.31,260.20 L732.32,261.49 L733.25,262.84 L734.11,264.20 L734.89,265.59 L735.60,266.99 L736.25,268.40 L736.85,269.82 L737.40,271.25 L737.90,272.70 L738.38,274.14 L738.83,275.59 L739.26,277.05 L739.69,278.50 L740.10,279.96 L740.51,281.41 L740.91,282.87 L741.30,284.33 L741.68,285.78 L742.05,287.24 L742.42,288.70 L742.78,290.16 L743.13,291.62 L743.48,293.09 L743.82,294.55 L744.15,296.02 L744.47,297.48 L744.78,298.95 L745.09,300.42 L745.39,301.89 L745.69,303.36 L745.98,304.84 L746.26,306.32 L746.53,307.79 L746.80,309.27 L747.06,310.75 L747.32,312.24 L747.57,313.72 L747.81,315.21 L748.05,316.69 L748.29,318.18 L748.52,319.67 L748.75,321.16 L748.97,322.66 L749.18,324.15 L749.40,325.64 L749.61,327.14 L749.81,328.63 L750.02,330.13 L750.21,331.63 L750.41,333.13 L750.61,334.63 L750.80,336.13 L750.99,337.63 L751.17,339.13 L751.36,340.63 L751.54,342.13 L751.72,343.63 L751.90,345.14 L752.08,346.64 L752.26,348.14 L752.44,349.65 L752.62,351.15 L752.79,352.65 L752.97,354.16 L753.15,355.66 L753.33,357.17 L753.51,358.67 L753.69,360.17 L753.87,361.68 L754.05,363.18 L754.23,364.68 L754.42,366.18 L754.60,367.69 L754.79,369.19 L754.98,370.69 L755.18,372.19 L755.37,373.69 L755.57,375.18 L755.77,376.68 L755.98,378.18 L756.19,379.68 L756.40,381.17 L756.62,382.67 L756.84,384.16 L757.06,385.65 L757.29,387.14 L757.53,388.63 L757.77,390.12 L758.01,391.61 L758.26,393.09 L758.52,394.58 L758.78,396.06 L759.05,397.54 L759.32,399.02 L759.60,400.50 L759.92,398.98 L760.23,397.46 L760.54,395.95 L760.83,394.44 L761.12,392.93 L761.41,391.43 L761.68,389.93 L761.95,388.43 L762.22,386.94 L762.48,385.45 L762.73,383.96 L762.98,382.47 L763.23,380.99 L763.47,379.51 L763.70,378.03 L763.94,376.55 L764.17,375.08 L764.40,373.61 L764.62,372.13 L764.84,370.66 L765.06,369.19 L765.28,367.72 L765.50,366.25 L765.72,364.78 L765.93,363.31 L766.15,361.85 L766.36,360.38 L766.58,358.91 L766.80,357.44 L767.01,355.97 L767.23,354.50 L767.45,353.02 L767.68,351.55 L767.90,350.08 L768.13,348.60 L768.36,347.12 L768.59,345.64 L768.83,344.16 L769.07,342.68 L769.31,341.19 L769.56,339.70 L769.81,338.21 L770.07,336.71 L770.33,335.22 L770.60,333.72 L770.88,332.21 L771.16,330.70 L771.45,329.19 L771.74,327.67 L772.04,326.15 L772.35,324.63 L772.67,323.10 L773.00,321.57 L773.34,320.04 L773.70,318.51 L774.07,316.99 L774.47,315.49 L774.90,314.00 L775.36,312.53 L775.86,311.08 L776.39,309.67 L776.96,308.28 L777.57,306.92 L778.23,305.61 L778.95,304.33 L779.71,303.10 L780.54,301.92 L781.42,300.80 L782.37,299.73 L783.39,298.72 L784.48,297.77 L785.65,296.89 L786.89,296.08 L788.20,295.38 L789.54,294.84 L790.91,294.51 L792.26,294.45 L793.60,294.65 L794.89,295.10 L796.12,295.81 L797.29,296.74 L798.40,297.83 L799.46,299.04 L800.46,300.31 L801.42,301.61 L802.33,302.92 L803.19,304.25 L804.02,305.59 L804.80,306.94 L805.54,308.30 L806.25,309.67 L806.91,311.05 L807.55,312.44 L808.15,313.84 L808.71,315.25 L809.25,316.67 L809.76,318.10 L810.25,319.53 L810.71,320.97 L811.14,322.42 L811.56,323.87 L811.95,325.33 L812.33,326.79 L812.69,328.25 L813.03,329.72 L813.36,331.20 L813.68,332.67 L813.99,334.15 L814.29,335.63 L814.59,337.11 L814.88,338.59 L815.16,340.07 L815.44,341.56 L815.71,343.04 L815.98,344.52 L816.24,346.01 L816.49,347.50 L816.74,348.98 L816.99,350.47 L817.23,351.96 L817.46,353.45 L817.69,354.94 L817.92,356.43 L818.14,357.92 L818.35,359.41 L818.56,360.90 L818.77,362.40 L818.97,363.89 L819.17,365.38 L819.36,366.88 L819.55,368.37 L819.73,369.87 L819.91,371.37 L820.09,372.86 L820.26,374.36 L820.43,375.86 L820.59,377.36 L820.75,378.86 L820.91,380.36 L821.06,381.86 L821.21,383.36 L821.36,384.86 L821.50,386.36 L821.64,387.86 L821.78,389.37 L821.91,390.87 L822.04,392.37 L822.17,393.88 L822.29,395.38 L822.41,396.89 L822.53,398.39 L822.65,399.90 L822.76,401.40 L822.87,402.91 L822.98,404.42 L823.08,405.92 L823.19,407.43 L823.29,408.94 L823.39,410.45 L823.48,411.95 L823.58,413.46 L823.67,414.97 L823.76,416.48 L823.85,417.99 L823.94,419.50 L824.02,421.01 L824.11,422.52 L824.19,424.03 L824.27,425.54 L824.35,427.05 L824.43,428.56 L824.50,430.07 L824.58,431.58 L824.65,433.09 L824.73,434.60 L824.80,436.12 L824.87,437.63 L824.94,439.14 L825.01,440.65 L825.08,442.16 L825.15,443.67 L825.22,445.19 L825.29,446.70 L825.36,448.21 L825.42,449.72 L825.49,451.23 L825.56,452.75 L825.63,454.26 L825.69,455.77 L825.76,457.28 L825.83,458.79 L825.90,460.30 L825.97,461.82 L826.03,463.33 L826.10,464.84 L826.17,466.35 L826.24,467.86 L826.32,469.37 L826.39,470.88 L826.46,472.39 L826.53,473.91 L826.61,475.42 L826.69,476.93 L826.76,478.44 L826.84,479.95 L826.92,481.46 L827.00,482.97 L827.08,484.47 L827.17,485.98 L827.25,487.49 L827.34,489.00 L827.43,490.51 L827.52,492.02 L827.61,493.52 L827.71,495.03 L827.81,496.54 L827.91,498.05 L828.01,499.55 L828.11,501.06 L828.22,502.56 L828.32,504.07 L828.44,505.57 L828.55,507.08 L828.67,508.58 L828.78,510.09 L828.91,511.59 L829.03,513.09 L829.16,514.60 L829.29,516.10 L829.42,517.60 L829.56,519.10 L829.70,520.60 L829.77,519.10 L829.84,517.60 L829.90,516.10 L829.97,514.59 L830.04,513.09 L830.10,511.59 L830.17,510.09 L830.23,508.58 L830.30,507.08 L830.36,505.57 L830.42,504.07 L830.49,502.56 L830.55,501.06 L830.61,499.55 L830.67,498.05 L830.73,496.54 L830.80,495.04 L830.86,493.53 L830.92,492.02 L830.98,490.52 L831.04,489.01 L831.10,487.50 L831.16,485.99 L831.23,484.49 L831.29,482.98 L831.35,481.47 L831.41,479.96 L831.48,478.45 L831.54,476.95 L831.60,475.44 L831.67,473.93 L831.73,472.42 L831.80,470.91 L831.87,469.40 L831.93,467.89 L832.00,466.38 L832.07,464.88 L832.14,463.37 L832.21,461.86 L832.28,460.35 L832.35,458.84 L832.42,457.33 L832.50,455.82 L832.57,454.31 L832.65,452.80 L832.73,451.29 L832.81,449.79 L832.89,448.28 L832.97,446.77 L833.05,445.26 L833.13,443.75 L833.22,442.24 L833.31,440.74 L833.39,439.23 L833.48,437.72 L833.58,436.21 L833.67,434.70 L833.76,433.20 L833.86,431.69 L833.96,430.18 L834.06,428.68 L834.16,427.17 L834.26,425.67 L834.37,424.16 L834.48,422.65 L834.59,421.15 L834.70,419.64 L834.82,418.14 L834.93,416.63 L835.05,415.13 L835.17,413.63 L835.30,412.12 L835.42,410.62 L835.55,409.12 L835.68,407.62 L835.81,406.11 L835.95,404.61 L836.09,403.11 L836.23,401.61 L836.37,400.11 L836.52,398.61 L836.67,397.11 L836.82,395.61 L836.97,394.12 L837.13,392.62 L837.29,391.12 L837.46,389.62 L837.62,388.13 L837.79,386.63 L837.97,385.14 L838.14,383.64 L838.32,382.15 L838.50,380.65 L838.69,379.16 L838.88,377.67 L839.07,376.18 L839.27,374.69 L839.47,373.20 L839.67,371.71 L839.88,370.22 L840.09,368.73 L840.30,367.24 L840.52,365.76 L840.75,364.27 L840.98,362.78 L841.22,361.30 L841.46,359.82 L841.72,358.34 L841.98,356.86 L842.25,355.39 L842.53,353.91 L842.83,352.44 L843.13,350.97 L843.45,349.50 L843.78,348.04 L844.13,346.58 L844.49,345.12 L844.87,343.67 L845.26,342.21 L845.67,340.77 L846.09,339.32 L846.54,337.88 L847.00,336.44 L847.48,335.01 L847.99,333.58 L848.51,332.16 L849.06,330.74 L849.63,329.32 L850.22,327.91 L850.84,326.51 L851.48,325.10 L852.14,323.71 L852.84,322.32 L853.56,320.94 L854.30,319.56 L855.08,318.18 L855.88,316.82 L856.71,315.46 L857.58,314.12 L858.47,312.81 L859.41,311.55 L860.37,310.35 L861.38,309.22 L862.42,308.17 L863.50,307.23 L864.63,306.40 L865.80,305.70 L867.01,305.14 L868.27,304.73 L869.58,304.49 L870.93,304.43 L872.31,304.55 L873.69,304.83 L875.05,305.28 L876.38,305.88 L877.66,306.62 L878.91,307.48 L880.11,308.44 L881.28,309.48 L882.41,310.59 L883.49,311.76 L884.54,312.95 L885.54,314.17 L886.51,315.39 L887.44,316.64 L888.34,317.89 L889.20,319.16 L890.03,320.45 L890.83,321.74 L891.61,323.04 L892.37,324.35 L893.10,325.67 L893.81,327.00 L894.50,328.33 L895.18,329.67 L895.85,331.01 L896.50,332.36 L897.14,333.71 L897.78,335.06 L898.41,336.41 L899.04,337.76 L899.66,339.11 L900.28,340.46 L900.90,341.81 L901.52,343.17 L902.14,344.52 L902.75,345.87 L903.37,347.23 L903.98,348.59 L904.60,349.95 L905.21,351.31 L905.83,352.68 L906.45,354.04 L907.07,355.41 L907.69,356.78 L908.32,358.16 L908.95,359.54 L909.58,360.92 L910.21,362.30 L910.85,363.69 L911.50,365.09 L912.15,366.48 L912.81,367.88 L913.47,369.29 L914.14,370.70 L914.82,372.12 L915.50,373.54 L916.20,374.96 L916.90,376.39 L917.62,377.79 L918.36,379.17 L919.13,380.49 L919.94,381.76 L920.78,382.94 L921.67,384.04 L922.61,385.03 L923.60,385.89 L924.66,386.62 L925.78,387.20 L926.97,387.61 L928.25,387.83 L929.60,387.87 L931.03,387.73 L932.51,387.44 L934.03,387.03 L935.57,386.53 L937.11,385.95 L938.65,385.33 L940.17,384.69 L941.68,384.03 L943.16,383.38 L944.64,382.75 L946.11,382.14 L947.57,381.58 L949.02,381.06 L950.47,380.62 L951.93,380.25 L953.38,379.96 L954.84,379.74 L956.30,379.59 L957.76,379.52 L959.21,379.50 L960.67,379.55 L962.13,379.65 L963.59,379.81 L965.05,380.02 L966.51,380.27 L967.97,380.56 L969.43,380.90 L970.88,381.27 L972.34,381.67 L973.79,382.10 L975.25,382.56 L976.70,383.03 L978.15,383.53 L979.60,384.04 L981.04,384.55 L982.48,385.08 L983.92,385.61 L985.36,386.14 L986.80,386.66 L988.23,387.18 L989.66,387.69 L991.09,388.19 L992.51,388.67 L993.94,389.15 L995.36,389.61 L996.79,390.05 L998.21,390.48 L999.64,390.89 L1001.07,391.28 L1002.51,391.65 L1003.94,391.99 L1005.39,392.32 L1006.83,392.61 L1008.28,392.88 L1009.74,393.13 L1011.20,393.34 L1012.67,393.53 L1014.15,393.68 L1015.64,393.80 L1017.13,393.88 L1018.64,393.93 L1020.15,393.94 L1021.68,393.92 L1023.22,393.85 L1024.76,393.74 L1026.33,393.59 L1027.90,393.40" stroke="#000" stroke-width="3"/>
</g>
<rect x="148.8" y="3.5" width="879" height="614.3" fill="none" stroke="#000" stroke-width="2.2"/>
<g stroke="#000" stroke-width="2.2">
<path d="M139.4,83.1H148.8M139.4,172.2H148.8M139.4,261.3H148.8M139.4,350.4H148.8M139.4,439.6H148.8M139.4,528.7H148.8M139.4,617.8H148.8"/>
<path d="M148.8,617.8V628.4M368.6,617.8V628.4M588.3,617.8V628.4M808,617.8V628.4M1027.8,617.8V628.4"/>
</g>
<g font-size="38" text-anchor="end" letter-spacing="0.8">
<text x="121" y="96.1">0</text>
<text x="121" y="185.2"><tspan dy="1.2">-</tspan><tspan dx="0.7" dy="-1.2">10</tspan></text>
<text x="121" y="274.3"><tspan dy="1.2">-</tspan><tspan dx="0.7" dy="-1.2">20</tspan></text>
<text x="121" y="363.4"><tspan dy="1.2">-</tspan><tspan dx="0.7" dy="-1.2">30</tspan></text>
<text x="121" y="452.5"><tspan dy="1.2">-</tspan><tspan dx="0.7" dy="-1.2">40</tspan></text>
<text x="121" y="541.7"><tspan dy="1.2">-</tspan><tspan dx="0.7" dy="-1.2">50</tspan></text>
<text x="121" y="630.8"><tspan dy="1.2">-</tspan><tspan dx="0.7" dy="-1.2">60</tspan></text>
</g>
<g font-size="38" text-anchor="middle" letter-spacing="0.8">
<text x="150" y="681.7">100</text>
<text x="369.8" y="681.7">150</text>
<text x="589.5" y="681.7">200</text>
<text x="809.2" y="681.7">250</text>
<text x="1029" y="681.7">300</text>
</g>
<text x="587" y="747" font-size="38" text-anchor="middle" letter-spacing="0.4">Frequency (MHz)</text>
<text transform="translate(29.5,377.8) rotate(-90)" font-size="40">S<tspan dy="9">21</tspan><tspan dy="-9">(dB)</tspan></text>
<rect x="167.4" y="27.9" width="258.6" height="123.6" fill="none" stroke="#000" stroke-width="2"/>
<path d="M183,67.4H282" stroke="#BC0000" stroke-width="3" stroke-dasharray="28.4 6.8" fill="none"/>
<path d="M183.8,111.8H292.3" stroke="#000" stroke-width="3.2" fill="none"/>
<text x="316.5" y="79.8" font-size="38" letter-spacing="0.6">2-coil</text>
<text x="316.5" y="124.6" font-size="38" letter-spacing="0.6">4-coil</text>
</svg>
</body></html>
